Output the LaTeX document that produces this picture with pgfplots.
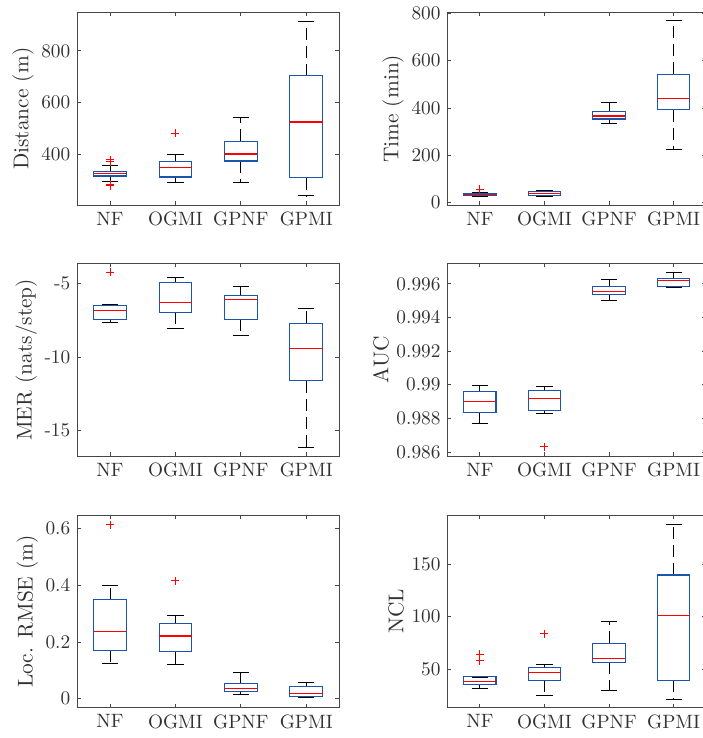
\documentclass[border=0pt]{standalone}
\usepackage{pgfplots}
\pgfplotsset{compat=1.18}
\definecolor{boxblue}{RGB}{25,85,170}
\definecolor{axgray}{RGB}{70,70,70}
\definecolor{txtgray}{RGB}{50,50,50}
% #1 position (1..4), #2 lower whisker, #3 lower quartile, #4 median, #5 upper quartile, #6 upper whisker
\newcommand{\bx}[6]{%
  \ifcase#1\or
    \def\bl{0.75}\def\br{1.25}\def\cl{0.875}\def\cR{1.125}\def\cc{1}\or
    \def\bl{1.75}\def\br{2.25}\def\cl{1.875}\def\cR{2.125}\def\cc{2}\or
    \def\bl{2.75}\def\br{3.25}\def\cl{2.875}\def\cR{3.125}\def\cc{3}\or
    \def\bl{3.75}\def\br{4.25}\def\cl{3.875}\def\cR{4.125}\def\cc{4}\fi
  \edef\tmp{%
    \noexpand\addplot[black, line width=0.5bp, dash pattern=on 6bp off 3bp] coordinates {(\cc,#5) (\cc,#6)};
    \noexpand\addplot[black, line width=0.5bp, dash pattern=on 6bp off 3bp] coordinates {(\cc,#3) (\cc,#2)};
    \noexpand\addplot[black, line width=0.5bp] coordinates {(\cl,#6) (\cR,#6)};
    \noexpand\addplot[black, line width=0.5bp] coordinates {(\cl,#2) (\cR,#2)};
    \noexpand\addplot[boxblue, line width=0.55bp, line join=miter] coordinates {(\bl,#3) (\br,#3) (\br,#5) (\bl,#5) (\bl,#3) (\br,#3)};
    \noexpand\addplot[red, line width=0.55bp] coordinates {(\bl,#4) (\br,#4)};
  }\tmp
}
\pgfplotsset{
  mybox/.style={
    scale only axis,
    height=96.25bp,
    xmin=0.5, xmax=4.5,
    xtick={1,2,3,4},
    xticklabels={NF,OGMI,GPNF,GPMI},
    tick align=inside,
    tickpos=both,
    major tick length=1.8bp,
    axis line style={axgray, line width=0.4bp},
    every tick/.style={axgray, line width=0.4bp},
    tick label style={font=\fontsize{9.65bp}{11.5bp}\selectfont, text=txtgray},
    label style={font=\fontsize{10.7bp}{12.5bp}\selectfont, text=txtgray},
    ylabel shift=-3bp,
    clip=false,
  },
  outl/.style={only marks, mark=+, red, mark size=2bp, mark options={line width=0.45bp, solid}},
}
\begin{document}
\begin{tikzpicture}
\useasboundingbox (0bp,0bp) rectangle (351.5bp,-369bp);
% ---------------- Distance
\begin{axis}[mybox, width=130.85bp, at={(38.65bp,-102.5bp)}, anchor=south west,
  ymin=205.9, ymax=947.9, ytick={400,600,800}, yticklabels={400,600,800},
  ylabel={Distance (m)}]
\bx{1}{296}{317.7}{326.7}{334}{359}
\bx{2}{292}{314}{351}{374.3}{399}
\bx{3}{292}{375.6}{402.6}{451.5}{545}
\bx{4}{240.6}{311.3}{526}{705}{914.5}
\addplot[outl] coordinates {(1,380) (1,372) (1,287) (1,280) (2,482)};
\end{axis}
% ---------------- Time
\begin{axis}[mybox, width=129.25bp, at={(223.75bp,-102.5bp)}, anchor=south west,
  ymin=-10, ymax=803, ytick={0,200,400,600,800}, yticklabels={0,200,400,600,800},
  ylabel={Time (min)}]
\bx{1}{27}{29}{33}{38}{42}
\bx{2}{28}{31}{39.6}{46.6}{51}
\bx{3}{333.6}{353}{366}{386}{422.6}
\bx{4}{226}{391.5}{439.6}{542.7}{769}
\addplot[outl] coordinates {(1,56)};
\end{axis}
% ---------------- MER
\begin{axis}[mybox, width=130.85bp, at={(38.65bp,-228bp)}, anchor=south west,
  ymin=-16.72, ymax=-3.62, ytick={-15,-10,-5}, yticklabels={-15,-10,-5},
  ylabel={MER (nats/step)}]
\bx{1}{-7.63}{-7.43}{-6.79}{-6.45}{-6.41}
\bx{2}{-8.05}{-6.93}{-6.27}{-4.89}{-4.59}
\bx{3}{-8.55}{-7.43}{-6.09}{-5.79}{-5.18}
\bx{4}{-16.11}{-11.61}{-9.43}{-7.68}{-6.68}
\addplot[outl] coordinates {(1,-4.23)};
\end{axis}
% ---------------- AUC
\begin{axis}[mybox, width=129.25bp, at={(223.75bp,-228bp)}, anchor=south west,
  ymin=0.98576, ymax=0.99721, ytick={0.986,0.988,0.990,0.992,0.994,0.996},
  yticklabels={0.986,0.988,0.99,0.992,0.994,0.996},
  ylabel={AUC}]
\bx{1}{0.98767}{0.988337}{0.98899}{0.989584}{0.98996}
\bx{2}{0.988297}{0.988475}{0.98917}{0.989644}{0.9899}
\bx{3}{0.99503}{0.995386}{0.995525}{0.995822}{0.996238}
\bx{4}{0.99578}{0.995822}{0.996218}{0.996317}{0.996673}
\addplot[outl] coordinates {(2,0.98630)};
\end{axis}
% ---------------- Loc. RMSE
\begin{axis}[mybox, width=130.85bp, at={(38.65bp,-353.85bp)}, anchor=south west,
  ymin=-0.0316, ymax=0.6468, ytick={0,0.2,0.4,0.6}, yticklabels={0,0.2,0.4,0.6},
  ylabel={Loc. RMSE (m)}]
\bx{1}{0.125}{0.1708}{0.2374}{0.3485}{0.40}
\bx{2}{0.1205}{0.1661}{0.221}{0.2655}{0.2936}
\bx{3}{0.0164}{0.0246}{0.0363}{0.0538}{0.0936}
\bx{4}{0.0058}{0.0094}{0.0187}{0.0433}{0.0585}
\addplot[outl] coordinates {(1,0.614) (2,0.4164)};
\end{axis}
% ---------------- NCL
\begin{axis}[mybox, width=129.25bp, at={(223.75bp,-353.85bp)}, anchor=south west,
  ymin=13.4, ymax=196.4, ytick={50,100,150}, yticklabels={50,100,150},
  ylabel={NCL}]
\bx{1}{31.7}{35.5}{38}{42.7}{42.4}
\bx{2}{24.8}{39.6}{46.8}{51.6}{54.7}
\bx{3}{29.5}{56.6}{59.8}{74.6}{95}
\bx{4}{21.6}{39.6}{100.9}{139.6}{187.9}
\addplot[outl] coordinates {(1,64.2) (1,57.9) (2,83.6)};
\end{axis}
\end{tikzpicture}
\end{document}
